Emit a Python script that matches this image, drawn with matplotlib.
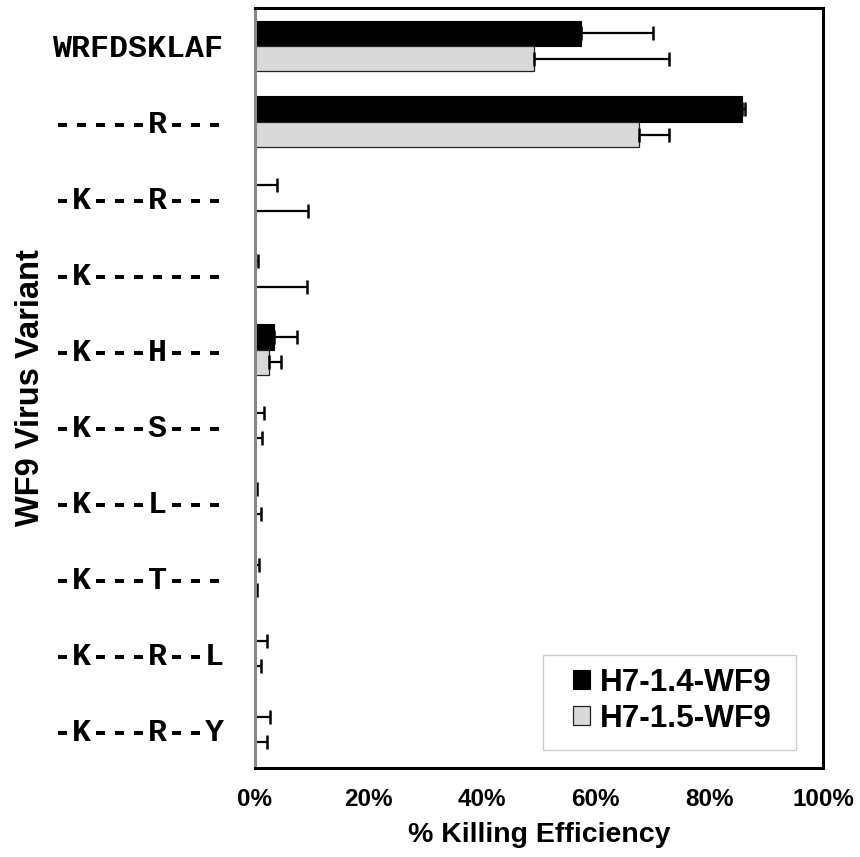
import matplotlib
matplotlib.use("Agg")
import matplotlib.pyplot as plt
from matplotlib.patches import Rectangle
import numpy as np

variants = ["WRFDSKLAF", "-----R---", "-K---R---", "-K-------", "-K---H---",
            "-K---S---", "-K---L---", "-K---T---", "-K---R--L", "-K---R--Y"]
h14_vals = [57.4, 85.7, 0.0, 0.0, 3.4, 0.0, 0.0, 0.0, 0.0, 0.0]
h14_err = [12.6, 0.6, 4.0, 0.5, 4.1, 1.6, 0.35, 0.8, 2.1, 2.7]
h15_vals = [49.1, 67.6, 0.0, 0.0, 2.5, 0.0, 0.0, 0.0, 0.0, 0.0]
h15_err = [23.8, 5.3, 9.4, 9.2, 2.1, 1.3, 1.05, 0.45, 1.05, 2.1]
xticks = [0, 20, 40, 60, 80, 100]
series_names = ["H7-1.4-WF9", "H7-1.5-WF9"]

fig = plt.figure(figsize=(8.6, 8.57), dpi=100)
L, R, T, B = 254.7, 823.0, 8.0, 767.5
ax = fig.add_axes([L/860, 1-B/857, (R-L)/860, (B-T)/857])

n = len(variants)
y = np.arange(n)
h = 0.335
ekw = dict(elinewidth=1.6, capthick=1.8, ecolor="black")
ax.barh(y - h/2, h14_vals, height=h, color="black", edgecolor="black", linewidth=0.8,
        xerr=[np.zeros(n), h14_err], capsize=5, error_kw=ekw, label=series_names[0])
ax.barh(y + h/2, h15_vals, height=h, color="#d9d9d9", edgecolor="#222222", linewidth=0.9,
        xerr=[np.zeros(n), h15_err], capsize=5, error_kw=ekw, label=series_names[1])

ax.set_xlim(0, 100)
ax.set_ylim(n - 0.5, -0.5)
ax.set_yticks(y)
ax.set_yticklabels(variants, family="Liberation Mono", fontweight="bold", fontsize=22.8)
ax.set_xticks(xticks)
ax.set_xticklabels([f"{t}%" for t in xticks], family="Liberation Sans", fontweight="bold", fontsize=17.5)
ax.tick_params(axis="both", length=0)
ax.tick_params(axis="y", pad=22)
ax.tick_params(axis="x", pad=15)

for s in ["top", "right", "bottom"]:
    ax.spines[s].set_linewidth(2.2)
    ax.spines[s].set_color("black")
ax.spines["left"].set_linewidth(2.2)
ax.spines["left"].set_color("#888888")

ax.set_xlabel("% Killing Efficiency", family="Liberation Sans", fontweight="bold", fontsize=20.5, labelpad=8)
ax.set_ylabel("WF9 Virus Variant", family="Liberation Sans", fontweight="bold", fontsize=23.5, labelpad=5)

# legend frame box
ax.add_patch(Rectangle((0.5073, 0.023), 0.9525 - 0.5073, 0.1481 - 0.023, transform=ax.transAxes,
                       facecolor="white", edgecolor="#cccccc", linewidth=1, zorder=4))
leg = ax.legend(loc="center", bbox_to_anchor=(0.7343, 0.0876), borderaxespad=0, frameon=False,
                prop=dict(family="Liberation Sans", weight="bold", size=22.7),
                handlelength=0.55, handleheight=0.55, handletextpad=0.3, borderpad=0.3,
                labelspacing=0.2)
leg.set_zorder(5)

fig.savefig("out.png", dpi=100)
